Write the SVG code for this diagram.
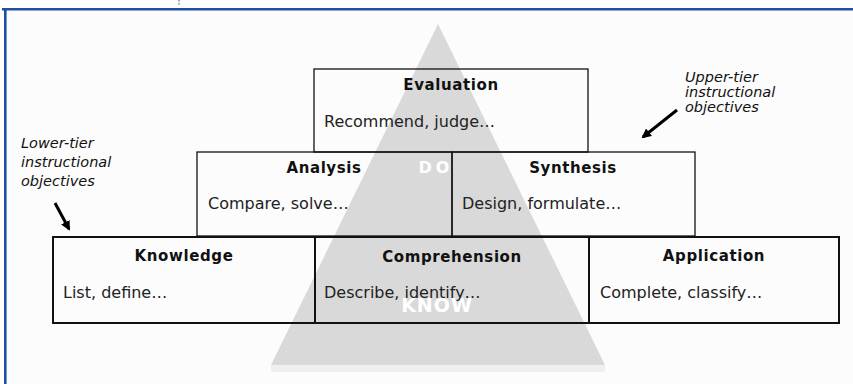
<svg xmlns="http://www.w3.org/2000/svg" width="853" height="384" viewBox="0 0 853 384">
<style>
.box{fill:none;stroke:#111;stroke-width:1.3}
.low{fill:none;stroke:#111;stroke-width:2}
.h{font-family:"DejaVu Sans",Verdana,sans-serif;font-weight:bold;font-size:15px;fill:#111;text-anchor:middle;letter-spacing:0.6px}
.t{font-family:"DejaVu Sans",Verdana,sans-serif;font-size:16px;fill:#222}
.w{font-family:"DejaVu Sans",Verdana,sans-serif;font-weight:bold;fill:#fff;text-anchor:middle}
.note{font-family:"DejaVu Sans",Verdana,sans-serif;font-style:italic;font-size:14.5px;fill:#111}
.arr{stroke:#000;stroke-width:3;fill:none;marker-end:url(#ah)}
</style>
<defs>
<marker id="ah" viewBox="0 0 10 10" refX="8" refY="5" markerWidth="3.2" markerHeight="3.2" orient="auto">
<path d="M0,0 L10,5 L0,10 z" fill="#000"/>
</marker>
</defs>
<rect x="0" y="0" width="853" height="384" fill="#fff"/>
<rect x="5" y="10" width="848" height="374" fill="#fcfcfc"/>
<line x1="2" y1="9.3" x2="853" y2="9.3" stroke="#1f4f9e" stroke-width="2.6"/>
<line x1="5.3" y1="8" x2="5.3" y2="384" stroke="#1f4f9e" stroke-width="2.6"/>
<line x1="179" y1="0" x2="179" y2="6" stroke="#1f4f9e" stroke-width="1" stroke-dasharray="1.5,1.5"/>
<polygon points="438,24 605,365 271,365" fill="#d9d9d9"/>
<rect x="271" y="365" width="334" height="7" fill="#efefef"/>
<g id="evaluation">
<rect class="box" x="314" y="69" width="274" height="83"/>
<text class="h" x="451" y="90">Evaluation</text>
<text class="t" x="324" y="127">Recommend, judge…</text>
</g>
<g id="do-label"><text class="w" x="436" y="173" font-size="16" letter-spacing="4">DO</text></g>
<g id="analysis">
<rect class="box" x="197" y="152" width="255" height="84"/>
<text class="h" x="324" y="173">Analysis</text>
<text class="t" x="208" y="209">Compare, solve…</text>
</g>
<g id="synthesis">
<rect class="box" x="452" y="152" width="243" height="84"/>
<text class="h" x="573" y="173">Synthesis</text>
<text class="t" x="462" y="209">Design, formulate…</text>
</g>
<g id="know-label"><text class="w" x="437" y="312" font-size="19" letter-spacing="1">KNOW</text></g>
<g id="knowledge">
<rect class="low" x="53" y="237" width="262" height="86"/>
<text class="h" x="184" y="261">Knowledge</text>
<text class="t" x="63" y="298">List, define…</text>
</g>
<g id="comprehension">
<rect class="low" x="315" y="237" width="274" height="86"/>
<text class="h" x="452" y="262">Comprehension</text>
<text class="t" x="324" y="298">Describe, identify…</text>
</g>
<g id="application">
<rect class="low" x="589" y="237" width="250" height="86"/>
<text class="h" x="714" y="261">Application</text>
<text class="t" x="600" y="298">Complete, classify…</text>
</g>
<g id="lower-note">
<text class="note" x="21" y="148">Lower-tier</text>
<text class="note" x="21" y="167">instructional</text>
<text class="note" x="21" y="186">objectives</text>
</g>
<g id="upper-note">
<text class="note" x="685" y="82">Upper-tier</text>
<text class="note" x="685" y="97">instructional</text>
<text class="note" x="685" y="112">objectives</text>
</g>
<g id="connectors">
<line class="arr" x1="55" y1="203" x2="69" y2="229"/>
<line class="arr" x1="677" y1="110" x2="643" y2="137"/>
</g>
</svg>
